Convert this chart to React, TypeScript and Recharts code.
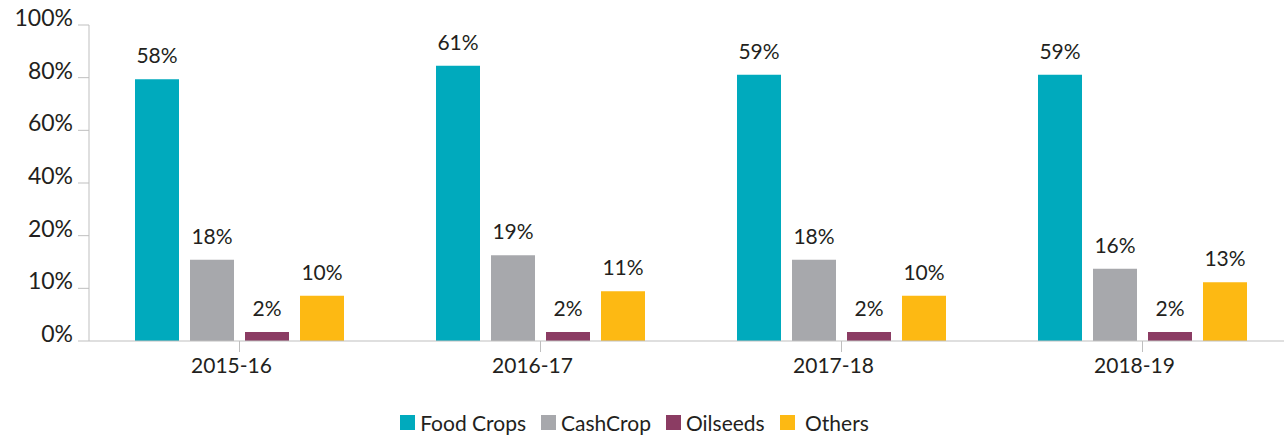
import { BarChart, Bar, XAxis, YAxis, Legend, LabelList } from 'recharts';

const years = ['2015-16', '2016-17', '2017-18', '2018-19'];
const foodCrops = [58, 61, 59, 59];
const cashCrop = [18, 19, 18, 16];
const oilseeds = [2, 2, 2, 2];
const others = [10, 11, 10, 13];
const yTickLabels = ['0%', '10%', '20%', '40%', '60%', '80%', '100%'];

const series = [
  { key: 'food', name: 'Food Crops', color: '#00AABD' },
  { key: 'cash', name: 'CashCrop', color: '#A7A8AC' },
  { key: 'oil', name: 'Oilseeds', color: '#8B3C63' },
  { key: 'others', name: ' Others', color: '#FDB913' },
];

const data = years.map((year, i) => ({
  year,
  food: foodCrops[i],
  cash: cashCrop[i],
  oil: oilseeds[i],
  others: others[i],
}));

const Y_MAX = 70;
const yTicks = yTickLabels.map((_, i) => (i * Y_MAX) / (yTickLabels.length - 1));

const FONT = 'Lato, sans-serif';
const AXIS = '#BFBFBF';
const TEXT = '#231F20';

const renderLegend = () => (
  <div
    style={{
      display: 'flex',
      justifyContent: 'center',
      alignItems: 'center',
      fontFamily: FONT,
      fontSize: 21,
      color: TEXT,
    }}
  >
    {series.map((s) => (
      <div key={s.key} style={{ display: 'flex', alignItems: 'center', marginRight: 15 }}>
        <span style={{ width: 15, height: 15, background: s.color, marginRight: 5 }} />
        <span style={{ whiteSpace: 'pre' }}>{s.name}</span>
      </div>
    ))}
  </div>
);

export default function App() {
  return (
    <div style={{ position: 'absolute', left: 0, top: 0, width: 1284, height: 439, background: '#fff' }}>
      <BarChart
        width={1284}
        height={439}
        data={data}
        margin={{ top: 25, right: -9, left: 0, bottom: 59 }}
        barSize={44}
        barGap={11}
      >
        <XAxis
          dataKey="year"
          height={39}
          stroke={AXIS}
          tickSize={11}
          tickMargin={6}
          tick={{ fill: TEXT, fontSize: 21, fontFamily: FONT, dx: -8 }}
        />
        <YAxis
          type="number"
          domain={[0, Y_MAX]}
          ticks={yTicks}
          interval={0}
          width={89}
          stroke={AXIS}
          tickSize={11}
          tickMargin={5}
          tickFormatter={(_v: number, i: number) => yTickLabels[i]}
          tick={{ fill: TEXT, fontSize: 23, fontFamily: FONT, dy: -7 }}
        />
        <Legend
          verticalAlign="middle"
          content={renderLegend}
          wrapperStyle={{ top: 410, left: 0, width: 1284 }}
        />
        {series.map((s) => (
          <Bar key={s.key} dataKey={s.key} name={s.name} fill={s.color} isAnimationActive={false}>
            <LabelList
              dataKey={s.key}
              position="top"
              offset={16}
              formatter={(v: number) => `${v}%`}
              style={{ fill: TEXT, fontSize: 21, fontFamily: FONT }}
            />
          </Bar>
        ))}
      </BarChart>
    </div>
  );
}
